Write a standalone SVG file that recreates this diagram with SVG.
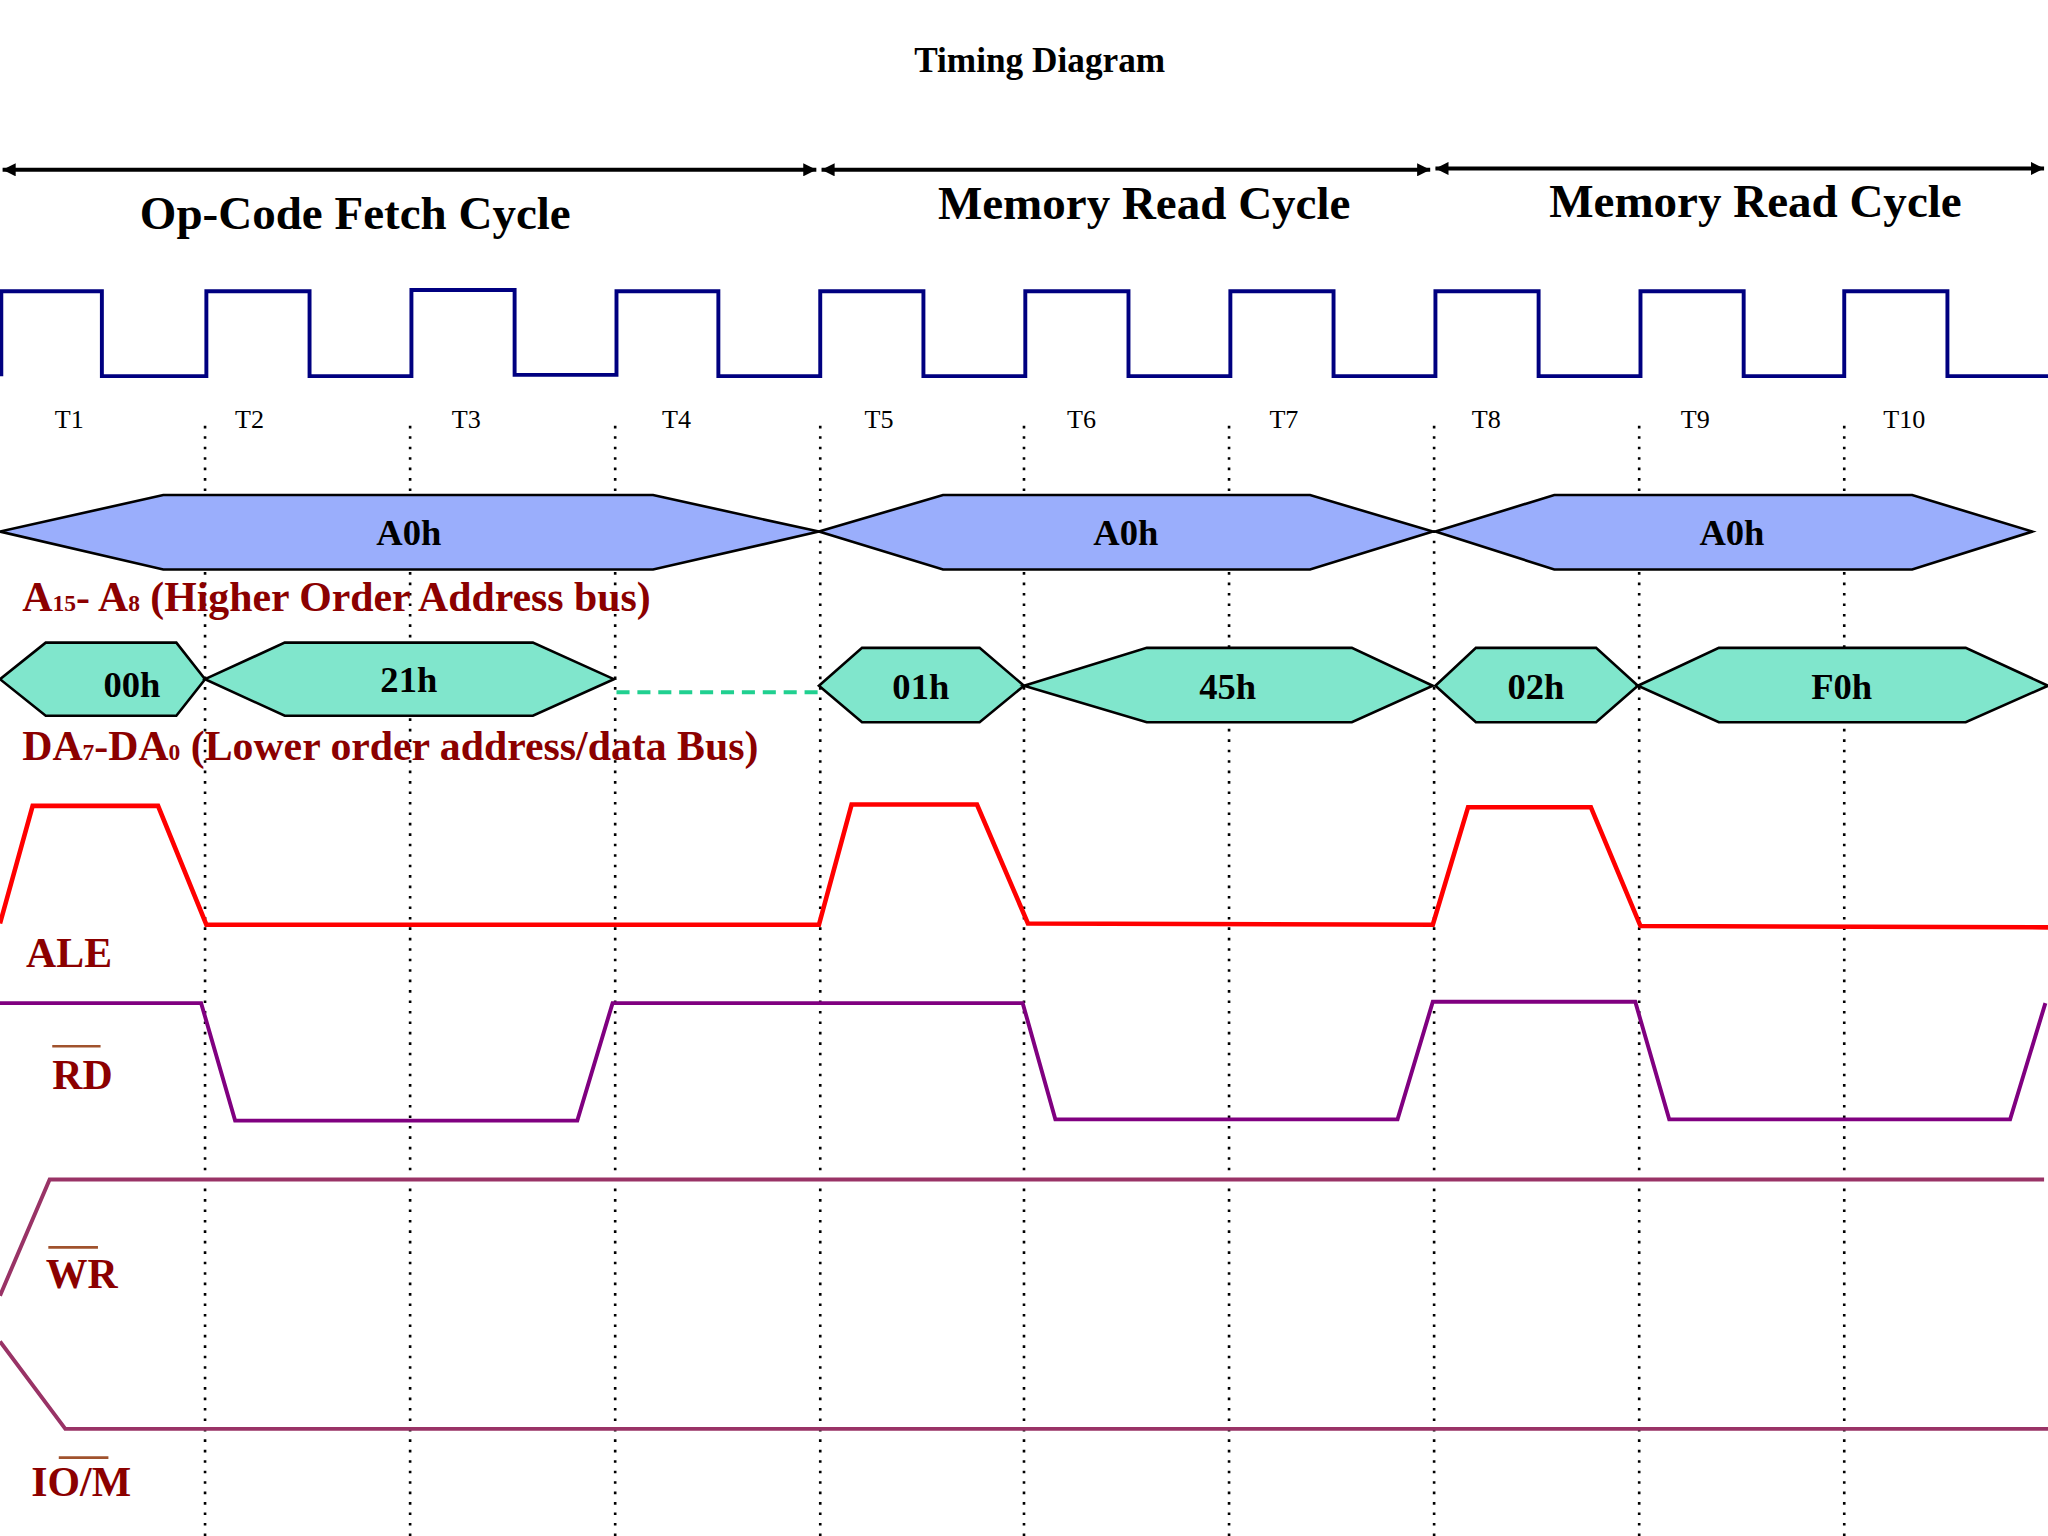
<svg xmlns="http://www.w3.org/2000/svg" width="2048" height="1536" viewBox="0 0 2048 1536">
<defs>
<marker id="ah" viewBox="0 0 10 10" refX="10" refY="5" markerWidth="12" markerHeight="10" markerUnits="userSpaceOnUse" orient="auto-start-reverse"><path d="M0,0 L10,5 L0,10 z" fill="#000"/></marker>
<style>
.t{font-family:"Liberation Serif","Times New Roman",serif;font-weight:bold}
.lbl{font-family:"Liberation Serif",serif;font-weight:bold;fill:#8b0000;font-size:32px}
.tl{font-family:"Liberation Serif",serif;font-size:20px;fill:#000}
.ab{fill:#9aaefc;stroke:#000;stroke-width:2}
.db{fill:#80e6cc;stroke:#000;stroke-width:2}
.v{font-family:"Liberation Serif",serif;font-weight:bold;font-size:28px;text-anchor:middle}
.dot{stroke:#000;stroke-width:2;stroke-dasharray:2,6}
.sig{fill:none;stroke-linejoin:miter}
.ov{stroke:#a0522d;stroke-width:2}
</style>
</defs>
<rect width="2048" height="1536" fill="#fff"/>
<g transform="scale(1.30612)">
<text class="t" x="796" y="55" font-size="27" text-anchor="middle">Timing Diagram</text>
<g id="connectors">
<line x1="2" y1="130" x2="625" y2="130" stroke="#000" stroke-width="3" marker-start="url(#ah)" marker-end="url(#ah)"/>
<line x1="629" y1="130" x2="1095" y2="130" stroke="#000" stroke-width="3" marker-start="url(#ah)" marker-end="url(#ah)"/>
<line x1="1099" y1="129" x2="1565" y2="129" stroke="#000" stroke-width="3" marker-start="url(#ah)" marker-end="url(#ah)"/>
<g>
<line class="dot" x1="157" y1="326" x2="157" y2="1176"/>
<line class="dot" x1="314" y1="326" x2="314" y2="1176"/>
<line class="dot" x1="471" y1="326" x2="471" y2="1176"/>
<line class="dot" x1="628" y1="326" x2="628" y2="1176"/>
<line class="dot" x1="784" y1="326" x2="784" y2="1176"/>
<line class="dot" x1="941" y1="326" x2="941" y2="1176"/>
<line class="dot" x1="1098" y1="326" x2="1098" y2="1176"/>
<line class="dot" x1="1255" y1="326" x2="1255" y2="1176"/>
<line class="dot" x1="1412" y1="326" x2="1412" y2="1176"/>
</g>
</g>
<text class="t" x="272" y="175" font-size="36" text-anchor="middle">Op-Code Fetch Cycle</text>
<text class="t" x="876" y="168" font-size="36" text-anchor="middle">Memory Read Cycle</text>
<text class="t" x="1344" y="166" font-size="36" text-anchor="middle">Memory Read Cycle</text>
<g id="clock">
<polyline class="sig" stroke="#000080" stroke-width="3" points="1,288 1,223 78,223 78,288 158,288 158,223 237,223 237,288 315,288 315,222 394,222 394,287 472,287 472,223 550,223 550,288 628,288 628,223 707,223 707,288 785,288 785,223 864,223 864,288 942,288 942,223 1021,223 1021,288 1099,288 1099,223 1178,223 1178,288 1256,288 1256,223 1335,223 1335,288 1412,288 1412,223 1491,223 1491,288 1568,288"/>
<text class="tl" x="53" y="328" text-anchor="middle">T1</text>
<text class="tl" x="191" y="328" text-anchor="middle">T2</text>
<text class="tl" x="357" y="328" text-anchor="middle">T3</text>
<text class="tl" x="518" y="328" text-anchor="middle">T4</text>
<text class="tl" x="673" y="328" text-anchor="middle">T5</text>
<text class="tl" x="828" y="328" text-anchor="middle">T6</text>
<text class="tl" x="983" y="328" text-anchor="middle">T7</text>
<text class="tl" x="1138" y="328" text-anchor="middle">T8</text>
<text class="tl" x="1298" y="328" text-anchor="middle">T9</text>
<text class="tl" x="1458" y="328" text-anchor="middle">T10</text>
</g>
<g id="addr">
<polygon class="ab" points="0,407 125,379 500,379 627,407 500,436 125,436"/>
<polygon class="ab" points="627,407 722,379 1003,379 1097,407 1003,436 722,436"/>
<polygon class="ab" points="1099,407 1190,379 1464,379 1556,407 1464,436 1190,436"/>
<text class="v" x="313" y="417">A0h</text>
<text class="v" x="862" y="417">A0h</text>
<text class="v" x="1326" y="417">A0h</text>
<text class="lbl" x="17" y="468">A<tspan font-size="18">15</tspan>- A<tspan font-size="18">8</tspan> (Higher Order Address bus)</text>
</g>
<g id="data">
<polygon class="db" points="0,520 35,492 135,492 157,520 135,548 35,548"/>
<polygon class="db" points="157,520 218,492 408,492 470,520 408,548 218,548"/>
<line x1="472" y1="530" x2="627" y2="530" stroke="#20d090" stroke-width="3" stroke-dasharray="10,6"/>
<polygon class="db" points="627,525 660,496 750,496 784,525 750,553 660,553"/>
<polygon class="db" points="784,525 878,496 1035,496 1097,525 1035,553 878,553"/>
<polygon class="db" points="1099,525 1130,496 1222,496 1254,525 1222,553 1130,553"/>
<polygon class="db" points="1254,525 1316,496 1505,496 1568,525 1505,553 1316,553"/>
<text class="v" x="101" y="534">00h</text>
<text class="v" x="313" y="530">21h</text>
<text class="v" x="705" y="535">01h</text>
<text class="v" x="940" y="535">45h</text>
<text class="v" x="1176" y="535">02h</text>
<text class="v" x="1410" y="535">F0h</text>
<text class="lbl" x="17" y="582">DA<tspan font-size="18">7</tspan>-DA<tspan font-size="18">0</tspan> (Lower order address/data Bus)</text>
</g>
<g id="ale">
<polyline class="sig" stroke="#ff0000" stroke-width="3.5" points="0,707 25,617 121,617 158,708 627,708 652,616 748,616 787,707 1097,708 1124,618 1218,618 1256,709 1568,710"/>
<text class="lbl" x="20" y="740">ALE</text>
</g>
<g id="rd">
<polyline class="sig" stroke="#800080" stroke-width="3" points="0,768 154,768 180,858 442,858 469,768 783,768 808,857 1070,857 1097,767 1252,767 1278,857 1539,857 1566,768"/>
<text class="lbl" x="40" y="834">RD</text>
<line class="ov" x1="40" y1="801" x2="77" y2="801"/>
</g>
<g id="wr">
<polyline class="sig" stroke="#993366" stroke-width="3" points="0,992 38,903 1565,903"/>
<text class="lbl" x="35" y="986">WR</text>
<line class="ov" x1="37" y1="955" x2="75" y2="955"/>
</g>
<g id="iom">
<polyline class="sig" stroke="#993366" stroke-width="3" points="0,1027 50,1094 1568,1094"/>
<text class="lbl" x="24" y="1145">IO/M</text>
<line class="ov" x1="45" y1="1116" x2="83" y2="1116"/>
</g>
</g>
</svg>
